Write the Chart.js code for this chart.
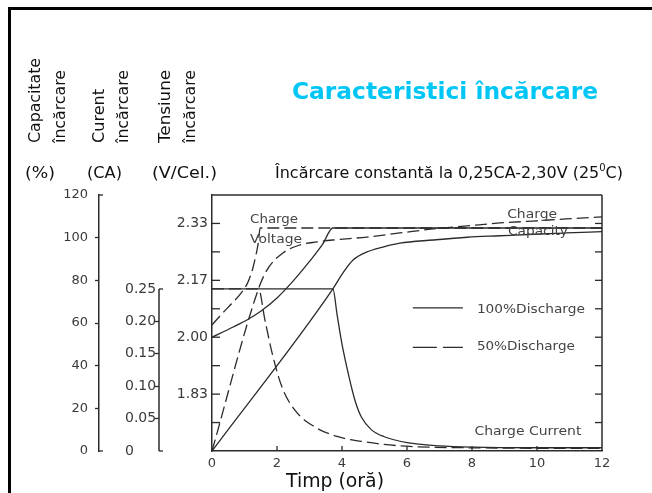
<!DOCTYPE html>
<html>
<head>
<meta charset="utf-8">
<title>Caracteristici încărcare</title>
<script src="https://cdn.jsdelivr.net/npm/chart.js@4.4.1/dist/chart.umd.min.js"></script>
<style>
  html, body { margin: 0; padding: 0; background: #fff; }
  canvas { display: block; }
</style>
</head>
<body>
<canvas id="chart" width="652" height="493"></canvas>
<script>
// axe
const timeTicks = [0, 2, 4, 6, 8, 10, 12];
const pctTicks = [0, 20, 40, 60, 80, 100, 120];
const caTicks = [0, 0.05, 0.10, 0.15, 0.20, 0.25];
const caTickLabels = ['0', '0.05', '0.10', '0.15', '0.20', '0.25'];
const voltTicks = [1.8333, 2.0, 2.1667, 2.3333];
const voltTickLabels = ['1.83', '2.00', '2.17', '2.33'];

// tensiune de incarcare (V/Cel.)
const v100Time = [0, 0.65, 1.1, 1.5, 2.0, 2.5, 3.0, 3.4, 3.72, 12];
const v100Volt = [2.00, 2.03, 2.052, 2.076, 2.115, 2.165, 2.222, 2.272, 2.32, 2.32];
const v50Time = [0, 0.3, 0.6, 0.9, 1.1, 1.25, 1.35, 1.43, 1.48, 12];
const v50Volt = [2.036, 2.068, 2.098, 2.13, 2.16, 2.2, 2.24, 2.28, 2.32, 2.32];

// curent de incarcare (CA)
const i100Time = [0, 3.72, 3.85, 4.0, 4.2, 4.4, 4.6, 4.9, 5.3, 6.0, 7.0, 8.0, 10.0, 12.0];
const i100Amp = [0.25, 0.25, 0.21, 0.165, 0.118, 0.078, 0.052, 0.033, 0.022, 0.013, 0.008, 0.006, 0.005, 0.005];
const i50Time = [0, 1.43, 1.63, 1.85, 2.15, 2.55, 3.17, 3.88, 4.71, 5.78, 7.85, 12];
const i50Amp = [0.25, 0.25, 0.202, 0.151, 0.099, 0.063, 0.037, 0.022, 0.014, 0.008, 0.005, 0.004];

// capacitate de incarcare (%)
const c100Time = [0, 3.72, 4.03, 4.34, 4.77, 5.26, 5.78, 6.8, 7.85, 8.86, 9.88, 10.9, 12];
const c100Pct = [0, 76, 83.5, 89.5, 93.3, 95.6, 97.4, 98.9, 100.2, 100.9, 101.6, 102.2, 102.8];
const c50Time = [0, 1.43, 1.69, 2.18, 2.71, 3.23, 3.72, 4.77, 5.78, 6.8, 7.85, 8.86, 9.88, 10.9, 12];
const c50Pct = [0, 76, 84.8, 92.8, 96.6, 98.0, 98.9, 100.3, 102.2, 104.1, 105.5, 106.9, 107.8, 108.8, 109.7];

const INK = '#2b2b2b';
const TXT = '#3a3a3a';
const FONT = "'DejaVu Sans', Verdana, sans-serif";
const DASH = [12, 5];

Chart.defaults.font.family = FONT;
Chart.defaults.color = TXT;

function pairs(xs, ys) {
    return xs.map((x, i) => ({ x: x, y: ys[i] }));
}

function curve(data, axis, dashed) {
    return {
        data: data,
        yAxisID: axis,
        borderColor: INK,
        borderWidth: 1.3,
        borderDash: dashed ? DASH : [],
        pointRadius: 0,
        fill: false,
        cubicInterpolationMode: 'monotone'
    };
}

// scrie text, eventual intins la o latime data
function text(ctx, str, x, y, font, color, width, align) {
    ctx.save();
    ctx.font = font;
    ctx.fillStyle = color;
    ctx.textBaseline = 'alphabetic';
    ctx.textAlign = 'left';
    const w = ctx.measureText(str).width;
    const k = width ? width / w : 1;
    ctx.translate(x - (align === 'center' ? w * k / 2 : 0), y);
    ctx.scale(k, 1);
    ctx.fillText(str, 0, 0);
    ctx.restore();
}

function rotated(ctx, str, x, y, font, length) {
    ctx.save();
    ctx.font = font;
    ctx.fillStyle = '#111';
    ctx.textBaseline = 'alphabetic';
    ctx.textAlign = 'left';
    const w = ctx.measureText(str).width;
    ctx.translate(x, y);
    ctx.rotate(-Math.PI / 2);
    ctx.scale(length / w, 1);
    ctx.fillText(str, 0, 0);
    ctx.restore();
}

function line(ctx, x1, y1, x2, y2, width, dash) {
    ctx.save();
    ctx.strokeStyle = INK;
    ctx.lineWidth = width;
    ctx.setLineDash(dash || []);
    ctx.beginPath();
    ctx.moveTo(x1, y1);
    ctx.lineTo(x2, y2);
    ctx.stroke();
    ctx.restore();
}

const endTicks = c => (c.index === 0 || c.index === c.scale.ticks.length - 1) ? 'rgba(0,0,0,0)' : INK;

const decor = {
    id: 'decor',
    afterLayout(chart) {
        // etichetele curentului sunt aliniate la stanga
        const s = chart.scales.yCA;
        s.left = s.right - 34;
    },
    beforeDraw(chart) {
        const ctx = chart.ctx;
        ctx.save();
        ctx.fillStyle = '#fff';
        ctx.fillRect(0, 0, chart.width, chart.height);
        ctx.fillStyle = '#000';
        ctx.fillRect(8, 7, 3, chart.height - 7);
        ctx.fillRect(8, 7, chart.width - 8, 3);
        ctx.restore();
    },
    afterDraw(chart) {
        const ctx = chart.ctx;
        const a = chart.chartArea;
        const sx = chart.scales.x, sv = chart.scales.yV, sc = chart.scales.yCA, sp = chart.scales.yPct;

        // rama
        line(ctx, a.left, a.top, a.right, a.top, 1.5);
        line(ctx, a.right, a.top, a.right, a.bottom, 1.5);

        // gradatii interioare
        sv.ticks.forEach((t, i) => {
            if (i === 0 || i === sv.ticks.length - 1) return;
            const y = sv.getPixelForValue(t.value);
            line(ctx, a.left, y, a.left + 8, y, 1.3);
            line(ctx, a.right - 7, y, a.right, y, 1.3);
        });
        sx.ticks.forEach((t, i) => {
            if (i === 0 || i === sx.ticks.length - 1) return;
            const x = sx.getPixelForValue(t.value);
            line(ctx, x, a.bottom, x, a.bottom - 5, 1.3);
        });

        // axa curentului, doar intre 0 si 0.25
        const y0 = sc.getPixelForValue(0), y1 = sc.getPixelForValue(0.25);
        line(ctx, sc.right, y0, sc.right, y1, 1.5);
        line(ctx, sc.right, y0, sc.right + 4, y0, 1.3);
        line(ctx, sc.right, y1, sc.right + 4, y1, 1.3);
        const p0 = sp.getPixelForValue(0), p1 = sp.getPixelForValue(120);
        line(ctx, sp.right, p0, sp.right + 4, p0, 1.3);
        line(ctx, sp.right, p1, sp.right + 4, p1, 1.3);

        // etichete in grafic
        const f13 = '13px ' + FONT;
        const notes = [
            ['Charge', 1.91, 2.349, 48],
            ['Voltage', 1.97, 2.291, 52],
            ['Charge', 9.85, 2.364, 50],
            ['Capacity', 10.03, 2.314, 60],
            ['Charge Current', 9.72, 1.728, 107]
        ];
        notes.forEach(n => {
            text(ctx, n[0], sx.getPixelForValue(n[1]), sv.getPixelForValue(n[2]) + 5, f13, '#444', n[3], 'center');
        });

        // legenda
        const lx1 = sx.getPixelForValue(6.18), lx2 = sx.getPixelForValue(7.72), tx = sx.getPixelForValue(8.15);
        const ly1 = sv.getPixelForValue(2.086), ly2 = sv.getPixelForValue(1.97);
        line(ctx, lx1, ly1, lx2, ly1, 1.3);
        line(ctx, lx1, ly2, lx2, ly2, 1.3, [24, 6]);
        text(ctx, '100%Discharge', tx, ly1 + 5, f13, '#444', 108);
        text(ctx, '50%Discharge', tx, ly2 + 3, f13, '#444', 98);

        // antet
        const f16 = '16px ' + FONT;
        rotated(ctx, 'Capacitate', 40, 143, f16, 85);
        rotated(ctx, 'încărcare', 64.5, 143, f16, 73);
        rotated(ctx, 'Curent', 104, 143, f16, 54);
        rotated(ctx, 'încărcare', 127.5, 143, f16, 73);
        rotated(ctx, 'Tensiune', 169.5, 143, f16, 73);
        rotated(ctx, 'încărcare', 194.5, 143, f16, 73);
        text(ctx, '(%)', 25, 178, f16, '#111', 30);
        text(ctx, '(CA)', 87, 178, f16, '#111', 35);
        text(ctx, '(V/Cel.)', 152, 178, f16, '#111', 65);

        text(ctx, 'Caracteristici încărcare', 292, 99, 'bold 23px ' + FONT, '#00c6f6', 306);

        // subtitlu cu exponent
        const s1 = 'Încărcare constantă la 0,25CA-2,30V (25', s2 = '0', s3 = 'C)';
        ctx.save();
        ctx.font = f16;
        const w1 = ctx.measureText(s1).width, w3 = ctx.measureText(s3).width;
        ctx.font = '10px ' + FONT;
        const w2 = ctx.measureText(s2).width;
        ctx.restore();
        const k = 348 / (w1 + w2 + w3);
        text(ctx, s1, 275, 178, f16, '#111', w1 * k);
        text(ctx, s2, 275 + w1 * k, 171, '10px ' + FONT, '#111', w2 * k);
        text(ctx, s3, 275 + (w1 + w2) * k, 178, f16, '#111', w3 * k);

        text(ctx, 'Timp (oră)', 286, 487, '19px ' + FONT, '#111', 98);
    }
};

new Chart(document.getElementById('chart'), {
    type: 'line',
    data: {
        datasets: [
            curve(pairs(v100Time, v100Volt), 'yV', false),
            curve(pairs(v50Time, v50Volt), 'yV', true),
            curve(pairs(i100Time, i100Amp), 'yCA', false),
            curve(pairs(i50Time, i50Amp), 'yCA', true),
            curve(pairs(c100Time, c100Pct), 'yPct', false),
            curve(pairs(c50Time, c50Pct), 'yPct', true)
        ]
    },
    options: {
        responsive: false,
        animation: false,
        layout: { padding: { left: 20, top: 195, right: 50, bottom: 0 } },
        plugins: { legend: { display: false }, tooltip: { enabled: false } },
        scales: {
            x: {
                type: 'linear',
                min: 0,
                max: 12,
                afterBuildTicks: s => { s.ticks = timeTicks.map(v => ({ value: v })); },
                afterFit: s => { s.height = 42; },
                grid: { drawOnChartArea: false, drawTicks: false },
                border: { color: INK, width: 1.5 },
                ticks: { padding: 5, font: { size: 13 }, color: TXT, maxRotation: 0, autoSkip: false }
            },
            yPct: {
                position: 'left',
                weight: 3,
                min: 0,
                max: 120,
                afterBuildTicks: s => { s.ticks = pctTicks.map(v => ({ value: v })); },
                afterFit: s => { s.width = 79; },
                grid: { drawOnChartArea: false, tickLength: 4, tickWidth: 1.3, tickColor: endTicks },
                border: { color: INK, width: 1.5 },
                ticks: { padding: 7, font: { size: 13 }, color: TXT }
            },
            yCA: {
                position: 'left',
                weight: 2,
                min: 0,
                max: 0.395,
                afterBuildTicks: s => { s.ticks = caTicks.map(v => ({ value: v })); },
                afterFit: s => { s.width = 60; },
                grid: { drawOnChartArea: false, tickLength: 4, tickWidth: 1.3, tickColor: endTicks },
                border: { display: false },
                ticks: {
                    crossAlign: 'far',
                    font: { size: 14 },
                    color: TXT,
                    callback: (v, i) => caTickLabels[i]
                }
            },
            yV: {
                position: 'left',
                weight: 1,
                min: 1.6667,
                max: 2.4167,
                afterBuildTicks: s => {
                    const t = [];
                    for (let k = 0; k <= 9; k++) t.push({ value: 1.6667 + k / 12 });
                    s.ticks = t;
                },
                afterFit: s => { s.width = 53; },
                grid: { drawOnChartArea: false, drawTicks: false },
                border: { color: INK, width: 1.5 },
                ticks: {
                    padding: 4,
                    font: { size: 14 },
                    color: TXT,
                    callback: v => {
                        const i = voltTicks.findIndex(t => Math.abs(t - v) < 0.002);
                        return i < 0 ? '' : voltTickLabels[i];
                    }
                }
            }
        }
    },
    plugins: [decor]
});
</script>
</body>
</html>
